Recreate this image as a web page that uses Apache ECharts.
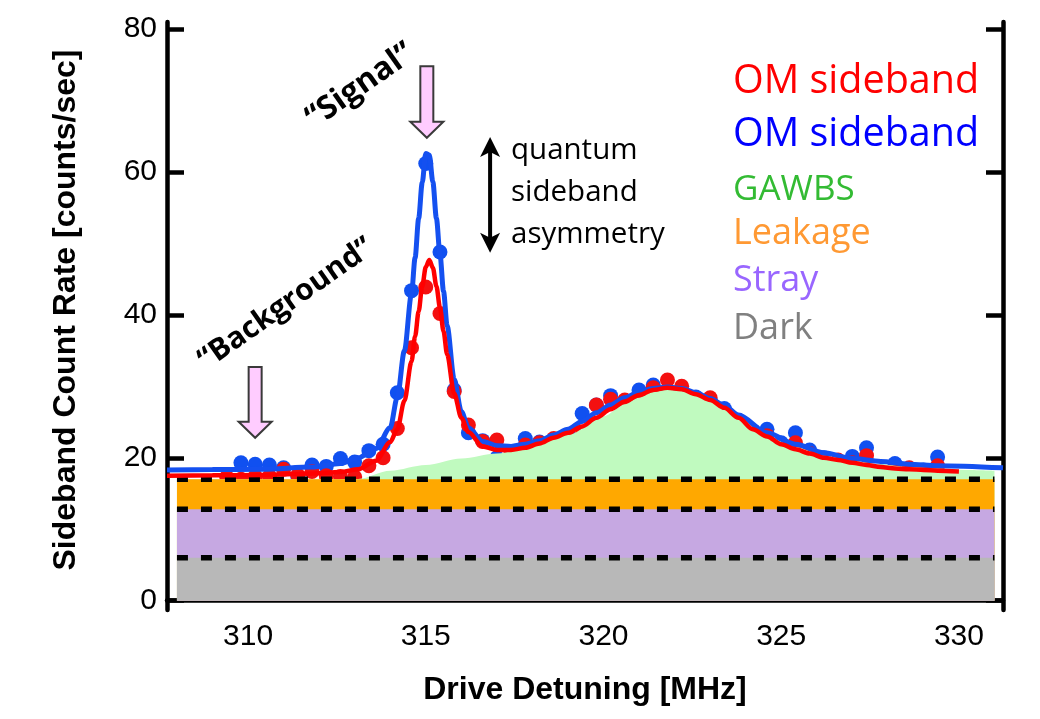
<!DOCTYPE html>
<html><head><meta charset="utf-8">
<script src="https://cdn.jsdelivr.net/npm/echarts@6/dist/echarts.min.js"></script>
<style>html,body{margin:0;padding:0;background:#fff}#c{width:1040px;height:719px}</style>
</head><body><div id="c"></div>
<script>
// ---- data ----
const xTicks = [310, 315, 320, 325, 330];
const yTicks = [0, 20, 40, 60, 80];

const redX = [309.4,309.8,310.2,310.6,311.0,311.4,311.8,312.2,312.6,313.0,313.4,313.8,314.2,314.6,315.0,315.4,315.8,316.2,316.6,317.0,317.4,317.8,318.2,318.6,319.0,319.4,319.8,320.2,320.6,321.0,321.4,321.8,322.2,322.6,323.0,323.4,323.8,324.2,324.6,325.0,325.4,325.8,326.2,326.6,327.0,327.4,327.8,328.2,328.6,329.0,329.4];
const redY = [17.3,17.0,17.4,17.4,18.4,17.6,18.1,17.5,17.4,17.3,18.9,20.0,24.1,35.4,43.9,40.2,29.3,24.6,22.3,22.5,20.7,21.8,22.1,22.7,22.7,23.1,27.4,28.2,28.1,28.4,29.8,30.9,30.0,28.2,28.4,26.5,25.2,23.5,23.1,20.7,22.1,20.6,18.6,19.7,19.3,20.3,17.6,18.3,18.6,18.1,18.9];

const blueX = [309.8,310.2,310.6,311.0,311.4,311.8,312.2,312.6,313.0,313.4,313.8,314.2,314.6,315.0,315.4,315.8,316.2,316.6,317.0,317.4,317.8,318.2,318.6,319.0,319.4,319.8,320.2,320.6,321.0,321.4,321.8,322.2,322.6,323.0,323.4,323.8,324.2,324.6,325.0,325.4,325.8,326.2,326.6,327.0,327.4,327.8,328.2,328.6,329.0,329.4,329.8];
const blueY = [19.3,19.1,19.0,18.6,17.4,19.0,18.8,19.9,19.4,21.0,21.9,29.1,43.4,61.2,48.8,29.5,23.5,22.4,20.0,20.4,22.7,22.2,22.3,23.2,26.2,27.4,28.7,27.2,29.5,30.2,29.5,27.7,28.5,28.2,26.9,25.2,23.8,24.0,22.1,23.5,21.1,20.0,18.1,20.2,21.4,18.1,19.2,18.1,18.3,20.1,17.4];

const redFitX = [307.72,309.0,310.4,311.8,312.6,313.1,313.6,314.0,314.2,314.4,314.6,314.7,314.8,314.9,315.0,315.1,315.2,315.3,315.4,315.5,315.6,315.8,316.0,316.2,316.6,317.0,317.4,317.8,318.2,318.6,319.0,319.4,319.8,320.2,320.6,321.0,321.4,321.8,322.2,322.6,323.0,323.4,323.8,324.2,324.6,325.0,325.4,325.8,326.2,326.6,327.0,327.4,327.8,328.2,328.6,329.0,329.4,330.0];
const redFitY = [17.5,17.55,17.6,17.8,18.0,18.4,19.6,22.2,24.0,28.0,33.5,37.0,40.5,44.0,46.7,47.7,46.6,44.0,41.0,37.7,34.5,29.0,25.6,23.6,21.6,21.1,21.1,21.4,22.0,22.8,23.5,24.4,25.6,26.8,27.9,28.8,29.5,29.8,29.6,28.9,28.1,27.0,25.6,24.0,23.0,21.9,21.2,20.6,20.0,19.7,19.3,19.0,18.7,18.5,18.4,18.3,18.2,18.1];

const blueFitX = [307.72,309.0,310.4,311.8,312.6,313.1,313.6,314.0,314.2,314.4,314.6,314.7,314.8,314.9,315.0,315.1,315.2,315.3,315.4,315.5,315.6,315.8,316.0,316.2,316.6,317.0,317.4,317.8,318.2,318.6,319.0,319.4,319.8,320.2,320.6,321.0,321.4,321.8,322.2,322.6,323.0,323.4,323.8,324.6,325.4,326.2,327.0,327.8,328.6,329.4,331.24];
const blueFitY = [18.3,18.35,18.4,18.7,19.2,20.0,21.3,24.2,28.5,35.0,43.0,48.0,53.5,58.5,62.6,62.4,58.6,53.5,48.5,43.3,38.5,31.0,26.5,24.2,22.3,21.7,21.6,21.9,22.4,23.2,24.0,25.1,26.3,27.4,28.4,29.2,29.7,29.9,29.7,29.1,28.3,27.3,26.0,23.5,21.9,20.7,19.9,19.5,19.1,18.9,18.6];

const gawbsX = [308.0,312.0,313.1,314.0,315.0,316.0,317.0,318.0,319.0,320.0,320.6,321.0,321.4,321.8,322.2,322.6,323.0,323.4,323.8,324.6,325.4,326.2,327.0,327.8,328.6,329.4,330.2,331.0];
const gawbsY = [17.0,17.0,17.05,18.2,19.0,19.9,20.6,21.6,23.2,25.8,27.5,28.4,29.2,29.6,29.5,29.0,28.0,26.9,25.6,23.0,21.5,20.3,19.6,19.1,18.7,18.5,18.3,18.2];

const bandX = [308.0, 331.0];
const leakageTop = [17.0, 17.0];
const strayTop = [12.8, 12.8];
const darkTop = [6.0, 6.0];

const legendLabels = ['OM sideband', 'OM sideband', 'GAWBS', 'Leakage', 'Stray', 'Dark'];
const legendColors = ['#ff0000', '#0000ff', '#33bb33', '#ff9933', '#9966ff', '#808080'];

// annotation anchors (data coordinates)
const signalArrow = {x: 315.03, yTop: 74.8, yTip: 64.8};
const backgroundArrow = {x: 310.2, yTop: 32.7, yTip: 22.8};
const asymArrow = {x: 316.81, yTop: 64.9, yBottom: 48.7};

// ---- chart ----
const pair = (xs, ys) => xs.map((x, i) => [x, ys[i]]);
const chart = echarts.init(document.getElementById('c'));
const tickFont = {fontFamily: '"Liberation Sans", Arial, sans-serif', fontSize: 30, color: '#000'};
const dash = {type: [11, 13], width: 5.5, color: '#000'};

chart.setOption({
  animation: false,
  backgroundColor: '#fff',
  grid: {left: 167, right: 37, top: 22, bottom: 109},
  xAxis: {
    type: 'value', min: 307.72, max: 331.24,
    splitLine: {show: false},
    axisLine: {show: true, lineStyle: {color: '#000', width: 4.5}},
    axisTick: {show: true, inside: true, length: 8, lineStyle: {color: '#000', width: 4.5}, customValues: xTicks},
    axisLabel: Object.assign({margin: 12, customValues: xTicks, formatter: v => String(v)}, tickFont)
  },
  yAxis: [{
    type: 'value', min: -1.3, max: 81, position: 'left',
    splitLine: {show: false},
    axisLine: {show: true, lineStyle: {color: '#000', width: 4.5}},
    axisTick: {show: true, inside: true, length: 17, lineStyle: {color: '#000', width: 4.5}, customValues: yTicks},
    axisLabel: Object.assign({margin: 10, customValues: yTicks, formatter: v => String(v)}, tickFont)
  }, {
    type: 'value', min: -1.3, max: 81, position: 'right',
    splitLine: {show: false},
    axisLine: {show: true, lineStyle: {color: '#000', width: 4.5}},
    axisTick: {show: true, inside: true, length: 17, lineStyle: {color: '#000', width: 4.5}, customValues: yTicks},
    axisLabel: {show: false}
  }],
  series: [
    {name: 'GAWBS', type: 'line', data: pair(gawbsX, gawbsY), symbol: 'none', smooth: 0.3, smoothMonotone: 'x',
     lineStyle: {width: 0}, areaStyle: {color: '#c0fabf', opacity: 1, origin: 0}},
    {name: 'Leakage', type: 'line', data: pair(bandX, leakageTop), symbol: 'none',
     lineStyle: dash, areaStyle: {color: '#ffa800', opacity: 1, origin: 0}},
    {name: 'Stray', type: 'line', data: pair(bandX, strayTop), symbol: 'none',
     lineStyle: dash, areaStyle: {color: '#c6a8e2', opacity: 1, origin: 0}},
    {name: 'Dark', type: 'line', data: pair(bandX, darkTop), symbol: 'none',
     lineStyle: dash, areaStyle: {color: '#b8b8b8', opacity: 1, origin: 0}},
    {name: 'blue fit', type: 'line', data: pair(blueFitX, blueFitY), symbol: 'none', smooth: 0.3, smoothMonotone: 'x',
     lineStyle: {color: '#1450f0', width: 5}},
    {name: 'blue data', type: 'scatter', data: pair(blueX, blueY), symbolSize: 15,
     itemStyle: {color: '#1050f0', opacity: 1}},
    {name: 'red fit', type: 'line', data: pair(redFitX, redFitY), symbol: 'none', smooth: 0.3, smoothMonotone: 'x',
     lineStyle: {color: '#ff0000', width: 4.5}},
    {name: 'red data', type: 'scatter', data: pair(redX, redY), symbolSize: 15,
     itemStyle: {color: '#f41010', opacity: 1}}
  ]
});

const P = (x, y) => chart.convertToPixel({gridIndex: 0}, [x, y]);
function downArrow(a) {
  const top = P(a.x, a.yTop), tip = P(a.x, a.yTip);
  const cx = top[0], yT = top[1], yP = tip[1], sw = 6.5, hw = 16.5, hl = 16;
  return {type: 'polygon', z: 100,
    shape: {points: [[cx - sw, yT], [cx + sw, yT], [cx + sw, yP - hl], [cx + hw, yP - hl], [cx, yP], [cx - hw, yP - hl], [cx - sw, yP - hl]]},
    style: {fill: '#ffccff', stroke: '#3a3a3a', lineWidth: 2}};
}
const aT = P(asymArrow.x, asymArrow.yTop), aB = P(asymArrow.x, asymArrow.yBottom);
const ax = aT[0];
const calib = '"Open Sans", "Noto Sans", sans-serif';
function txt(t, x, y, size, color, opts) {
  return Object.assign({type: 'text', x: x, y: y, z: 100,
    style: Object.assign({text: t, fill: color, fontSize: size, fontFamily: calib, align: 'left', verticalAlign: 'middle'}, (opts && opts.style) || {})},
    (opts && opts.el) || {});
}
const legendY = [82, 135, 190, 234, 281, 329];
const legendSize = [39.5, 39.5, 35, 36, 36, 36];
const graphics = [
  downArrow(signalArrow), downArrow(backgroundArrow),
  {type: 'line', z: 100, shape: {x1: ax, y1: aT[1] + 12, x2: ax, y2: aB[1] - 12}, style: {stroke: '#000', lineWidth: 4}},
  {type: 'polygon', z: 100, shape: {points: [[ax, aT[1]], [ax + 10, aT[1] + 20], [ax, aT[1] + 15], [ax - 10, aT[1] + 20]]}, style: {fill: '#000'}},
  {type: 'polygon', z: 100, shape: {points: [[ax, aB[1]], [ax + 10, aB[1] - 20], [ax, aB[1] - 15], [ax - 10, aB[1] - 20]]}, style: {fill: '#000'}},
  txt('quantum', 511, 151, 29.5, '#000'),
  txt('sideband', 511, 193, 29.5, '#000'),
  txt('asymmetry', 511, 235, 29.5, '#000'),
  txt('\u201cSignal\u201d', 360, 86, 32, '#000', {style: {align: 'center', fontWeight: 'bold'}, el: {rotation: 35 * Math.PI / 180}}),
  txt('\u201cBackground\u201d', 286, 304, 30, '#000', {style: {align: 'center', fontWeight: 'bold'}, el: {rotation: 35 * Math.PI / 180}}),
  {type: 'text', x: 585, y: 690, z: 100, style: {text: 'Drive Detuning [MHz]', fill: '#000', fontSize: 32, fontWeight: 'bold', fontFamily: '"Liberation Sans", Arial, sans-serif', align: 'center', verticalAlign: 'middle'}},
  {type: 'text', x: 66, y: 310, z: 100, rotation: Math.PI / 2, style: {text: 'Sideband Count Rate [counts/sec]', fill: '#000', fontSize: 32, fontWeight: 'bold', fontFamily: '"Liberation Sans", Arial, sans-serif', align: 'center', verticalAlign: 'middle'}}
];
legendLabels.forEach((l, i) => graphics.push(txt(l, 733, legendY[i], legendSize[i], legendColors[i])));
chart.setOption({graphic: graphics});
</script>
</body></html>
